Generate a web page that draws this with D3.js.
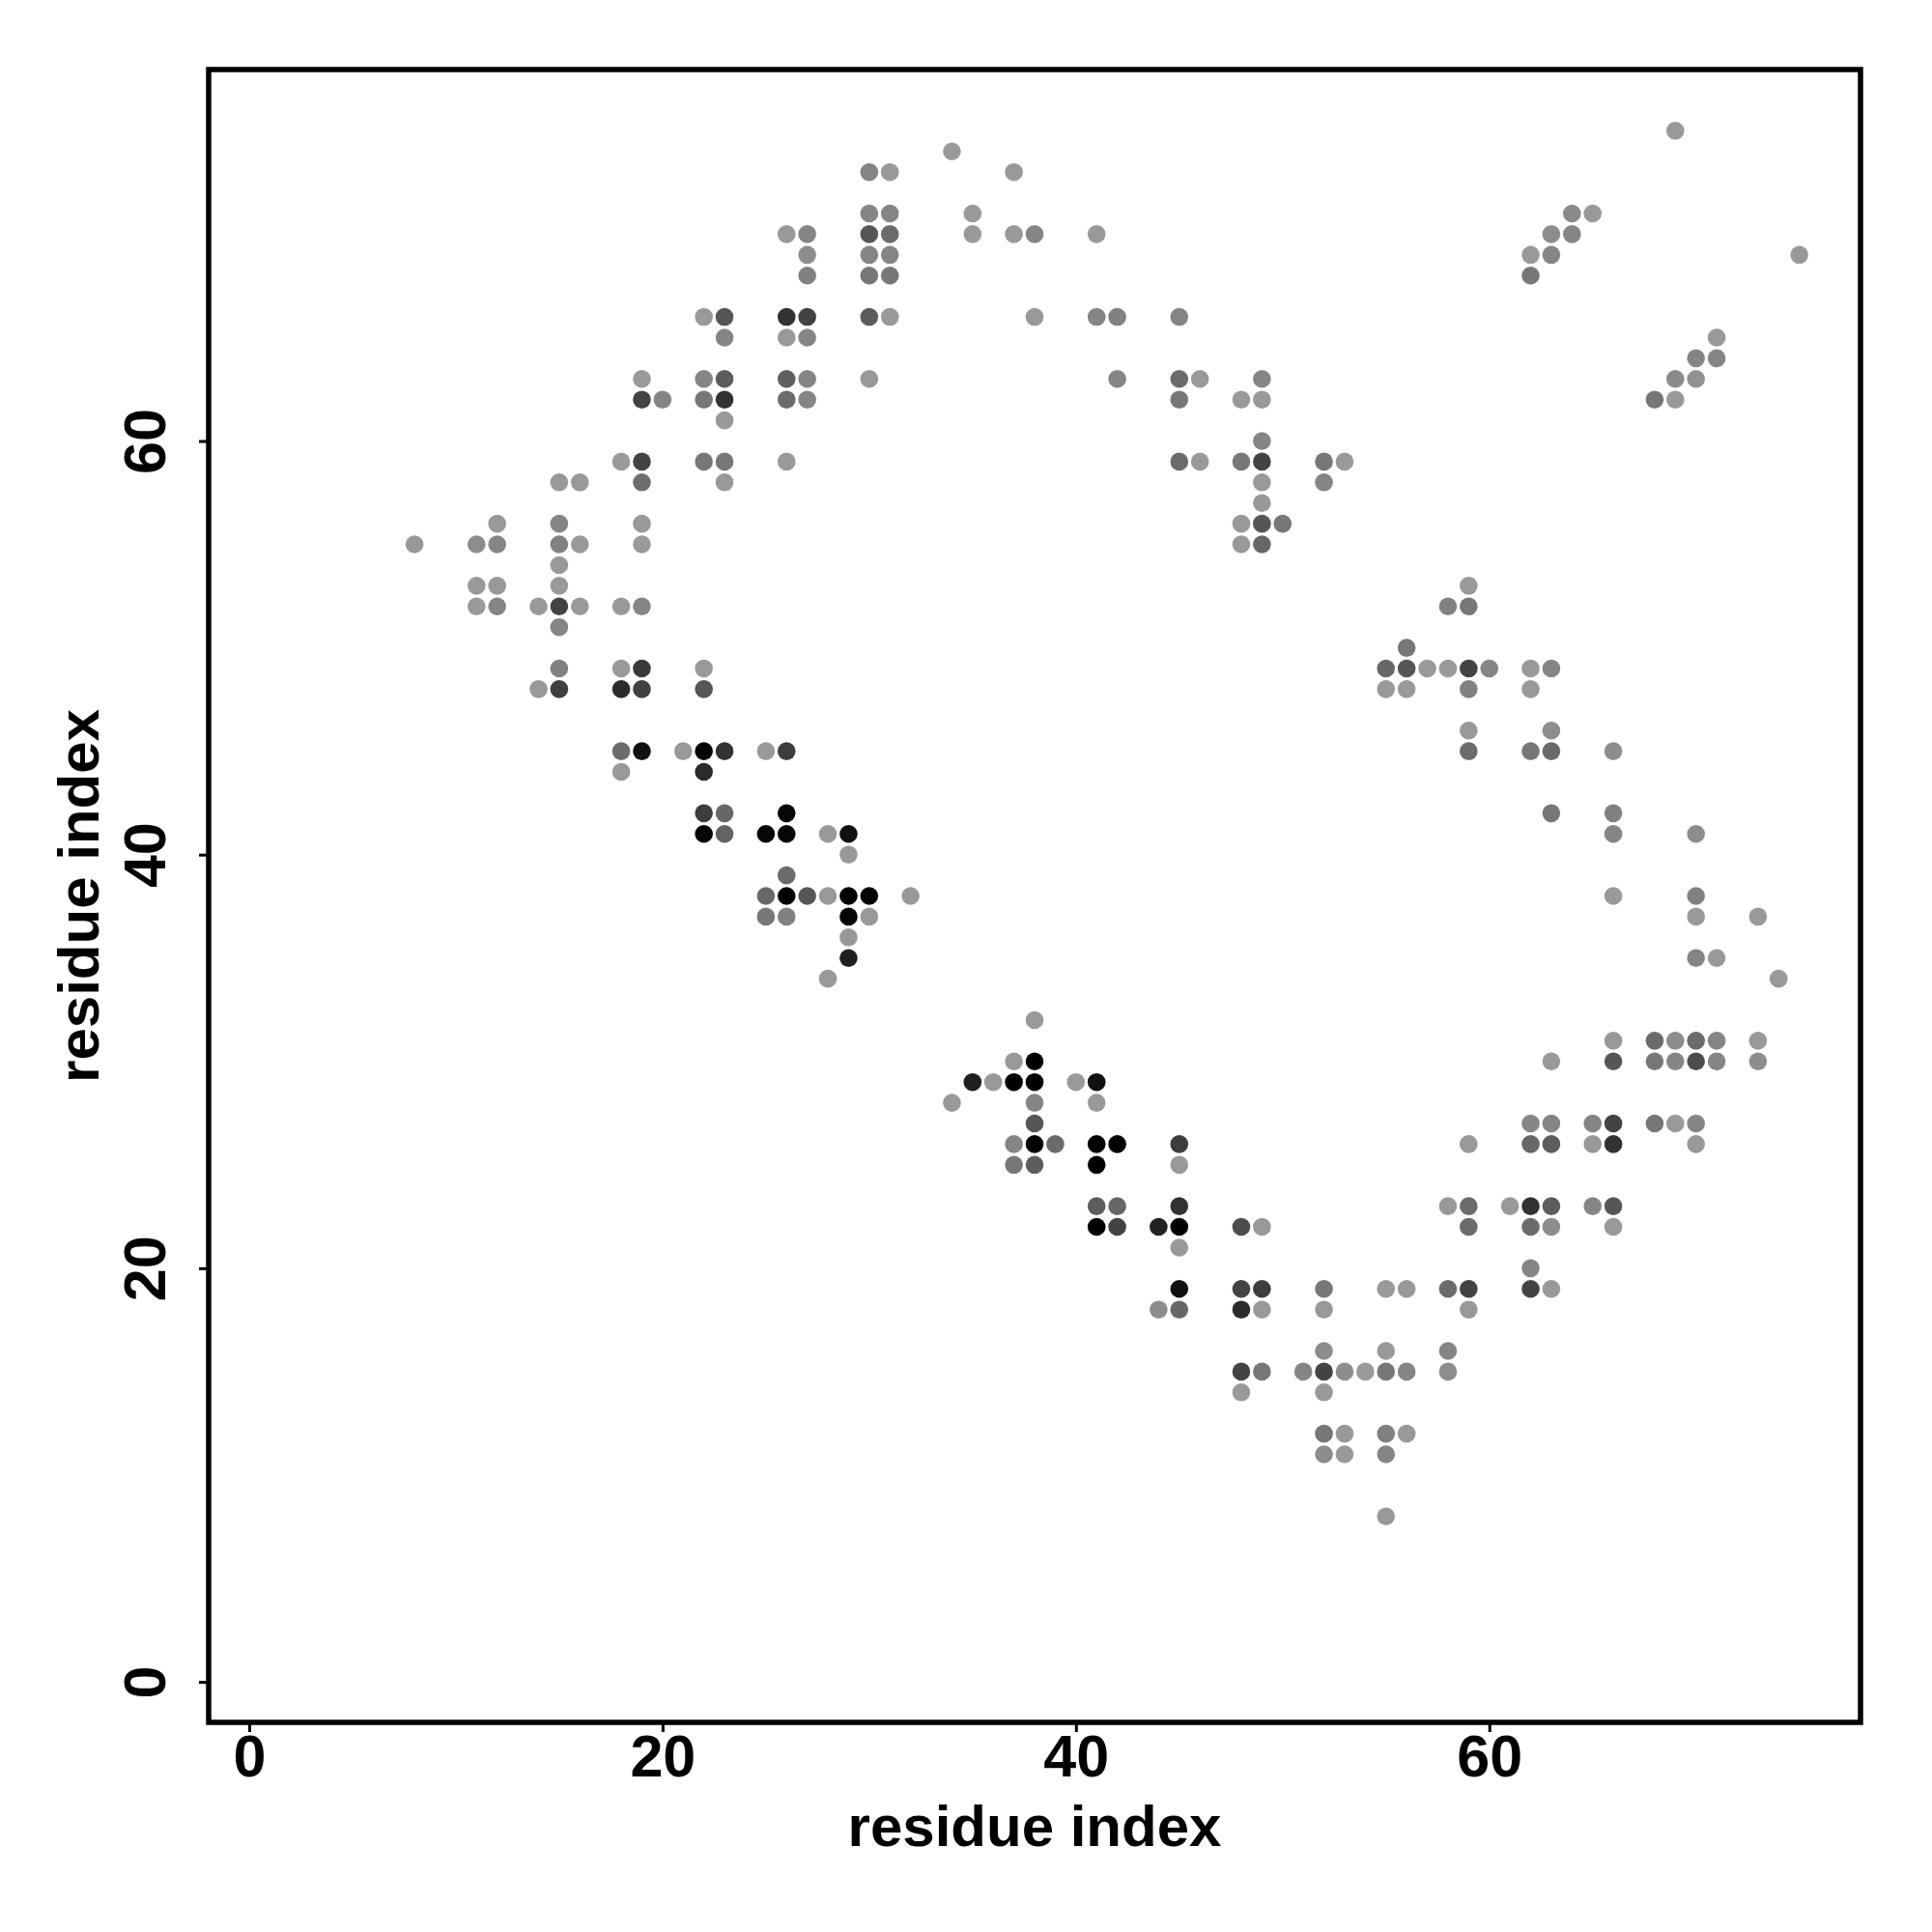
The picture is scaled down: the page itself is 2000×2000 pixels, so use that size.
<!DOCTYPE html>
<html lang="en">
<head>
    <meta charset="UTF-8">
    <title>Residue contact map</title>
    <script src="https://d3js.org/d3.v7.min.js"></script>
    <style>
        body { margin: 0; background: #ffffff; }
        text { font-family: "Liberation Sans", Arial, Helvetica, sans-serif; font-weight: bold; fill: #000; }
    </style>
</head>
<body>
<svg id="chart" width="2000" height="2000"></svg>
<script>
    // contacts: [residue i, residue j, strength 0..1], row by row
    const contacts = [
        [69,75,0],
        [34,74,0],
        [30,73,.13],[31,73,0],[37,73,0],
        [30,71,.13],[31,71,.13],[35,71,0],[64,71,.1],[65,71,0],
        [26,70,0],[27,70,.13],[30,70,.44],[31,70,.3],[35,70,0],[37,70,0],[38,70,.13],[41,70,0],[63,70,.08],[64,70,.13],
        [27,69,.08],[30,69,.13],[31,69,.13],[62,69,0],[63,69,.13],[75,69,0],
        [27,68,.16],[30,68,.22],[31,68,.22],[62,68,.22],
        [22,66,0],[23,66,.44],[26,66,.67],[27,66,.56],[30,66,.4],[31,66,0],[38,66,0],[41,66,.13],[42,66,.16],[45,66,.13],
        [23,65,.13],[26,65,0],[27,65,.13],[71,65,0],
        [70,64,.13],[71,64,.13],
        [19,63,0],[22,63,.13],[23,63,.4],[26,63,.38],[27,63,.13],[30,63,0],[42,63,.13],[45,63,.3],[46,63,0],[49,63,.13],[69,63,.1],[70,63,.05],
        [19,62,.56],[20,62,.13],[22,62,.22],[23,62,.67],[26,62,.3],[27,62,.13],[45,62,.22],[48,62,0],[49,62,0],[68,62,.22],[69,62,0],
        [23,61,0],
        [49,60,.13],
        [18,59,0],[19,59,.56],[22,59,.22],[23,59,.22],[26,59,0],[45,59,.3],[46,59,0],[48,59,.22],[49,59,.56],[52,59,.22],[53,59,0],
        [15,58,0],[16,58,0],[19,58,.28],[23,58,0],[49,58,0],[52,58,.13],
        [49,57,0],
        [12,56,0],[15,56,.13],[19,56,0],[48,56,0],[49,56,.44],[50,56,.22],
        [8,55,0],[11,55,.08],[12,55,.13],[15,55,.16],[16,55,0],[19,55,0],[48,55,0],[49,55,.33],
        [15,54,0],
        [11,53,0],[12,53,0],[15,53,0],[59,53,0],
        [11,52,0],[12,52,.13],[14,52,0],[15,52,.56],[16,52,0],[18,52,0],[19,52,.13],[58,52,.16],[59,52,.22],
        [15,51,.13],
        [56,50,.22],
        [15,49,.16],[18,49,0],[19,49,.62],[22,49,0],[55,49,.33],[56,49,.44],[57,49,0],[58,49,0],[59,49,.56],[60,49,.13],[62,49,0],[63,49,.13],
        [14,48,0],[15,48,.58],[18,48,.72],[19,48,.58],[22,48,.44],[55,48,0],[56,48,0],[59,48,.16],[62,48,0],
        [59,46,0],[63,46,.08],
        [18,45,.3],[19,45,.89],[21,45,0],[22,45,1],[23,45,.67],[25,45,0],[26,45,.6],[59,45,.3],[62,45,.22],[63,45,.3],[66,45,.08],
        [18,44,0],[22,44,.72],
        [22,42,.6],[23,42,.33],[26,42,.96],[63,42,.22],[66,42,.16],
        [22,41,.96],[23,41,.35],[25,41,.96],[26,41,.96],[28,41,0],[29,41,.89],[66,41,.13],[70,41,.08],
        [29,40,0],
        [26,39,.3],
        [25,38,.33],[26,38,1],[27,38,.44],[28,38,0],[29,38,1],[30,38,1],[32,38,0],[66,38,0],[70,38,.16],
        [25,37,.22],[26,37,.16],[29,37,.96],[30,37,0],[70,37,0],[73,37,0],
        [29,36,0],
        [29,35,.8],[70,35,.13],[71,35,0],
        [28,34,0],[74,34,0],
        [38,32,0],
        [66,31,0],[68,31,.3],[69,31,.08],[70,31,.3],[71,31,.13],[73,31,0],
        [37,30,0],[38,30,1],[63,30,0],[66,30,.44],[68,30,.22],[69,30,.13],[70,30,.5],[71,30,.13],[73,30,.08],
        [35,29,.8],[36,29,0],[37,29,1],[38,29,1],[40,29,0],[41,29,.89],
        [34,28,0],[38,28,.13],[41,28,0],
        [38,27,.44],[62,27,.13],[63,27,.13],[65,27,.13],[66,27,.56],[68,27,.22],[69,27,0],[70,27,.13],
        [37,26,.13],[38,26,1],[39,26,.3],[41,26,1],[42,26,1],[45,26,.6],[59,26,0],[62,26,.33],[63,26,.39],[65,26,0],[66,26,.67],[70,26,0],
        [37,25,.22],[38,25,.39],[41,25,1],[45,25,0],
        [41,23,.39],[42,23,.33],[45,23,.67],[58,23,0],[59,23,.3],[61,23,0],[62,23,.67],[63,23,.39],[65,23,.13],[66,23,.44],
        [41,22,1],[42,22,.56],[44,22,.78],[45,22,1],[48,22,.5],[49,22,0],[59,22,.3],[62,22,.3],[63,22,.08],[66,22,0],
        [45,21,0],
        [62,20,.13],
        [45,19,.89],[48,19,.56],[49,19,.6],[52,19,.22],[55,19,0],[56,19,0],[58,19,.3],[59,19,.56],[62,19,.56],[63,19,0],
        [44,18,.08],[45,18,.33],[48,18,.72],[49,18,0],[52,18,0],[59,18,0],
        [52,16,.08],[55,16,0],[58,16,.13],
        [48,15,.56],[49,15,.22],[51,15,.13],[52,15,.56],[53,15,.08],[54,15,0],[55,15,.22],[56,15,.13],[58,15,.08],
        [48,14,0],[52,14,0],
        [52,12,.22],[53,12,0],[55,12,.16],[56,12,0],
        [52,11,.08],[53,11,0],[55,11,.13],
        [55,8,0]
    ];

    const xTicks = [0, 20, 40, 60];
    const yTicks = [0, 20, 40, 60];
    const xTitle = "residue index";
    const yTitle = "residue index";
    const domain = [-1.96, 77.96];   // 1..75 with R's 4% padding

    const plot = { left: 216, right: 1926, top: 72, bottom: 1783 };

    const svg = d3.select("#chart");

    const x = d3.scaleLinear().domain(domain).range([plot.left, plot.right]);
    const y = d3.scaleLinear().domain(domain).range([plot.bottom, plot.top]);
    const shade = d3.scaleLinear().domain([0, 1]).range(["#999999", "#000000"]);

    // points
    svg.append("g")
        .selectAll("circle")
        .data(contacts)
        .enter()
        .append("circle")
        .attr("cx", d => x(d[0]))
        .attr("cy", d => y(d[1]))
        .attr("r", 9.3)
        .attr("fill", d => shade(d[2]));

    // frame
    svg.append("rect")
        .attr("x", plot.left)
        .attr("y", plot.top)
        .attr("width", plot.right - plot.left)
        .attr("height", plot.bottom - plot.top)
        .attr("fill", "none")
        .attr("stroke", "black")
        .attr("stroke-width", 5.5);

    // x axis
    const gx = svg.append("g")
        .attr("transform", `translate(0,${plot.bottom})`)
        .call(d3.axisBottom(x).tickValues(xTicks).tickSize(10).tickPadding(3));
    gx.select(".domain").remove();
    gx.selectAll("line").attr("stroke", "black").attr("stroke-width", 3);
    gx.selectAll("text").style("font-size", "61px").style("font-weight", "bold");

    // y axis, labels turned to read upwards as in R
    const gy = svg.append("g")
        .attr("transform", `translate(${plot.left},0)`)
        .call(d3.axisLeft(y).tickValues(yTicks).tickSize(10));
    gy.select(".domain").remove();
    gy.selectAll("line").attr("stroke", "black").attr("stroke-width", 3);
    gy.selectAll("text")
        .attr("transform", "rotate(-90)")
        .attr("x", 0)
        .attr("y", -45)
        .attr("dy", 0)
        .attr("text-anchor", "middle")
        .style("font-size", "61px")
        .style("font-weight", "bold");
    gx.attr("font-family", null);
    gy.attr("font-family", null);

    // axis titles
    svg.append("text")
        .attr("x", (plot.left + plot.right) / 2)
        .attr("y", 1911)
        .attr("text-anchor", "middle")
        .style("font-size", "60px")
        .text(xTitle);

    svg.append("text")
        .attr("transform", `translate(102,${(plot.top + plot.bottom) / 2}) rotate(-90)`)
        .attr("text-anchor", "middle")
        .style("font-size", "60px")
        .text(yTitle);
</script>
</body>
</html>
